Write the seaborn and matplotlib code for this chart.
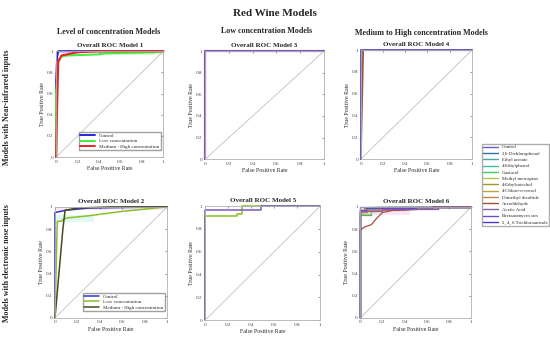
import numpy as np
import pandas as pd
import matplotlib.pyplot as plt
import seaborn as sns

sns.set_theme(style="white")
plt.rcParams['font.family'] = ['Liberation Serif', 'DejaVu Serif']

# ---- data ----
conc_labels = ['Control', 'Low concentration', 'Medium - High concentration']

# Model 1 (NIR, level of concentration)
m1_fpr = [
    [0, 0.0, 0.01, 0.02, 0.2, 1],
    [0, 0.0, 0.02, 0.05, 0.1, 0.4, 0.45, 0.9, 1],
    [0, 0.01, 0.02, 0.05, 0.2, 0.4, 1],
]
m1_tpr = [
    [0, 0.7, 0.95, 1.0, 1.0, 1],
    [0, 0.6, 0.9, 0.95, 0.96, 0.97, 0.98, 0.99, 1],
    [0, 0.5, 0.9, 0.96, 0.99, 1.0, 1],
]
m1_colors = ['#2525d8', '#3ef03e', '#f02020']

# Model 2 (e-nose, level of concentration)
m2_fpr = [
    [0, 0.0, 0.05, 0.1, 0.3, 1],
    [0, 0.02, 0.05, 0.1, 0.3, 0.6, 0.8, 1],
    [0, 0.07, 0.09, 0.2, 0.5, 1],
]
m2_tpr = [
    [0, 0.95, 0.96, 0.97, 0.99, 1],
    [0, 0.87, 0.87, 0.9, 0.92, 0.96, 0.98, 1],
    [0, 0.8, 0.97, 0.99, 1.0, 1],
]
m2_colors = ['#3030d0', '#8cbf26', '#4a4a1a']

# Model 3 / 5 (low concentration)
m3_fpr = [[0, 0, 0, 1], [0, 0, 1]]
m3_tpr = [[0, 0.9, 1, 1], [0, 1, 1]]
m3_colors = ['#b03050', '#7e57c2']

m5_fpr = [[0, 0, 0.28, 0.28, 0.32, 0.32, 1], [0, 0, 0.02, 0.49, 0.49, 1]]
m5_tpr = [[0, 0.91, 0.91, 0.93, 0.93, 1, 1], [0, 0.97, 0.97, 0.97, 1, 1]]
m5_colors = ['#8cbf26', '#7e57c2']

# Model 4 / 6 (medium to high concentration), 13 classes
mh_labels = ['Control', '2,6-Dichlorophenol', 'Ethyl acetate', '4-Ethylphenol',
             'Guaiacol', 'Methyl mercaptan', '4-Ethylcatechol',
             '4-Chloro-o-cresol', 'Dimethyl disulfide', 'Acetaldehyde',
             'Acetic Acid', 'Bretanomyces strs', '2, 4, 6 Trichloroanisole']
mh_colors = ['#6a5acd', '#2f6ea8', '#45a5a5', '#3cbfa0', '#3cd060', '#a8c850',
             '#9a9a30', '#c0a040', '#c08848', '#a05038', '#8a60a8', '#7048c8',
             '#4838e0']

m4_fpr = [[0, 0, 1], [0, 0.02, 0.02, 1], [0, 0, 1]]
m4_tpr = [[0, 1, 1], [0, 0.95, 1, 1], [0, 1, 1]]
m4_idx = [1, 9, 0]

m6_fpr = [
    [0, 0, 0.05, 0.05, 0.15, 0.15, 1],
    [0, 0, 0.1, 0.1, 0.2, 0.2, 1],
    [0, 0, 0.05, 0.05, 0.3, 0.3, 1],
    [0, 0, 0.08, 0.08, 1],
    [0, 0, 0.1, 0.1, 0.25, 0.25, 1],
    [0, 0, 0.03, 0.03, 0.12, 0.12, 1],
    [0, 0, 0.15, 0.15, 0.4, 0.4, 1],
    [0, 0, 0.06, 0.06, 0.35, 0.35, 1],
    [0, 0, 0.04, 0.1, 0.15, 0.2, 0.3, 0.4, 0.55, 0.65, 0.65, 1],
    [0, 0, 0.2, 0.2, 0.7, 0.7, 1],
    [0, 0, 0.05, 0.05, 0.5, 0.5, 1],
    [0, 0, 1],
]
m6_tpr = [
    [0, 0.95, 0.95, 0.98, 0.98, 1, 1],
    [0, 0.93, 0.93, 0.97, 0.97, 1, 1],
    [0, 0.96, 0.96, 0.98, 0.98, 1, 1],
    [0, 0.97, 0.97, 1, 1],
    [0, 0.94, 0.94, 0.97, 0.97, 1, 1],
    [0, 0.95, 0.95, 0.99, 0.99, 1, 1],
    [0, 0.96, 0.96, 0.98, 0.98, 1, 1],
    [0, 0.95, 0.95, 0.97, 0.97, 1, 1],
    [0, 0.79, 0.82, 0.84, 0.9, 0.95, 0.97, 0.97, 0.98, 0.98, 1, 1],
    [0, 0.96, 0.96, 0.98, 0.98, 1, 1],
    [0, 0.97, 0.97, 0.99, 0.99, 1, 1],
    [0, 1, 1],
]
m6_idx = [1, 2, 3, 4, 5, 6, 7, 8, 9, 10, 11, 12]


def to_frame(fprs, tprs, names):
    rows = []
    for f, t, n in zip(fprs, tprs, names):
        for i, (a, b) in enumerate(zip(f, t)):
            rows.append({'fpr': a, 'tpr': b, 'cls': n, 'order': i})
    return pd.DataFrame(rows)


def style_ax(ax, title):
    ax.plot([0, 1], [0, 1], color='#c8c8c8', lw=0.7, zorder=0)
    ax.set_xlim(0, 1)
    ax.set_ylim(0, 1)
    ticks = [0, 0.2, 0.4, 0.6, 0.8, 1]
    labs = ['0', '0.2', '0.4', '0.6', '0.8', '1']
    ax.set_xticks(ticks, labs)
    ax.set_yticks(ticks, labs)
    ax.tick_params(labelsize=3.7, length=1.5, width=0.4, direction='in',
                   top=True, right=True, pad=1.8, colors='#444444')
    for s in ax.spines.values():
        s.set_color('#b0b0b0')
        s.set_linewidth(0.6)
    ax.set_title(title, fontsize=5, fontweight='bold', pad=3)
    ax.set_xlabel('False Positive Rate', fontsize=4.2, labelpad=1.5)
    ax.set_ylabel('True Positive Rate', fontsize=4.2, labelpad=1.5)


def draw(ax, fprs, tprs, names, colors, lw=1.2):
    df = to_frame(fprs, tprs, names)
    sns.lineplot(data=df, x='fpr', y='tpr', hue='cls', palette=dict(zip(names, colors)),
                 hue_order=names, sort=False, estimator=None, units='cls',
                 lw=lw, ax=ax, legend=False)
    for ln in ax.lines:
        ln.set_clip_on(False)


fig = plt.figure(figsize=(5.5, 3.46), dpi=100)
fig.text(0.5, 0.962, 'Red Wine Models', ha='center', va='center', fontsize=8, fontweight='bold')
fig.text(0.198, 0.908, 'Level of concentration Models', ha='center', va='center', fontsize=5.8, fontweight='bold')
fig.text(0.484, 0.91, 'Low concentration Models', ha='center', va='center', fontsize=5.8, fontweight='bold')
fig.text(0.767, 0.905, 'Medium to High concentration Models', ha='center', va='center', fontsize=5.8, fontweight='bold')
fig.text(0.013, 0.69, 'Models with Near-infrared inputs', rotation=90, va='center',
         ha='center', fontsize=5.8, fontweight='bold')
fig.text(0.013, 0.24, 'Models with electronic nose inputs', rotation=90, va='center',
         ha='center', fontsize=5.8, fontweight='bold')

ax1 = fig.add_axes([0.102, 0.546, 0.195, 0.306])
ax3 = fig.add_axes([0.373, 0.540, 0.216, 0.312])
ax4 = fig.add_axes([0.656, 0.540, 0.202, 0.315])
ax2 = fig.add_axes([0.100, 0.081, 0.204, 0.321])
ax5 = fig.add_axes([0.373, 0.075, 0.209, 0.329])
ax6 = fig.add_axes([0.655, 0.081, 0.202, 0.321])

# Model 1
ax1.fill_between([0.4, 1], 0.965, 0.985, color='#d8f8d8', lw=0, zorder=0)
draw(ax1, m1_fpr, m1_tpr, conc_labels, m1_colors, lw=1.5)
style_ax(ax1, 'Overall ROC Model 1')
h = [plt.Line2D([], [], color=c, lw=1.4) for c in m1_colors]
ax1.legend(h, conc_labels, loc='lower right', fontsize=3.6, frameon=True,
           fancybox=False, edgecolor='#888888', handlelength=3, borderpad=0.3,
           labelspacing=0.2, bbox_to_anchor=(1.0, 0.04))

# Model 2
ax2.fill_between([0.0, 1], 0.97, 1.0, color='#fde8f4', lw=0, zorder=0)
ax2.fill_between([0.0, 0.35], 0.86, 0.93, color='#e0f8f8', lw=0, zorder=0)
draw(ax2, m2_fpr, m2_tpr, conc_labels, m2_colors, lw=1.1)
style_ax(ax2, 'Overall ROC Model 2')
h = [plt.Line2D([], [], color=c, lw=1.1) for c in m2_colors]
ax2.legend(h, conc_labels, loc='lower right', fontsize=3.6, frameon=True,
           fancybox=False, edgecolor='#888888', handlelength=3, borderpad=0.3,
           labelspacing=0.2, bbox_to_anchor=(1.0, 0.04))

# Model 3
draw(ax3, m3_fpr, m3_tpr, ['a', 'b'], m3_colors, lw=1.5)
style_ax(ax3, 'Overall ROC Model 3')

# Model 5
draw(ax5, m5_fpr, m5_tpr, ['a', 'b'], m5_colors, lw=1.1)
style_ax(ax5, 'Overall ROC Model 5')

# Model 4
draw(ax4, m4_fpr, m4_tpr, [mh_labels[i] for i in m4_idx],
     [mh_colors[i] for i in m4_idx], lw=1.3)
style_ax(ax4, 'Overall ROC Model 4')

# Model 6
ax6.fill_between([0.0, 0.45], 0.93, 1.0, color='#fbe4f4', lw=0, zorder=0)
draw(ax6, m6_fpr, m6_tpr, [mh_labels[i] for i in m6_idx],
     [mh_colors[i] for i in m6_idx], lw=0.9)
style_ax(ax6, 'Overall ROC Model 6')

h = [plt.Line2D([], [], color=c, lw=1.0) for c in mh_colors]
fig.legend(h, mh_labels, loc='upper left', bbox_to_anchor=(0.872, 0.592),
           fontsize=3.5, frameon=True, fancybox=False, edgecolor='#999999',
           handlelength=3, borderpad=0.3, labelspacing=0.38)

fig.savefig('out.png', dpi=100)
